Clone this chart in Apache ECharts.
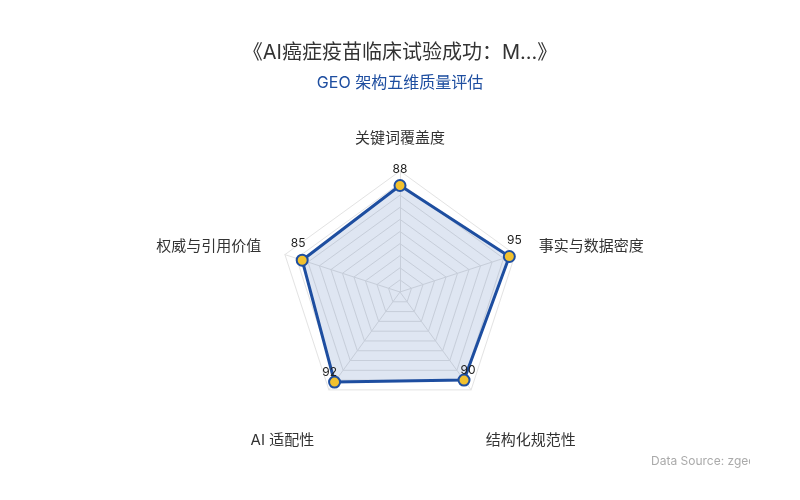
<!DOCTYPE html>
<html><head><meta charset="utf-8">
<script src="https://cdn.jsdelivr.net/npm/echarts@6/dist/echarts.min.js"></script>
<style>html,body{margin:0;padding:0;background:#fff}#c{width:800px;height:500px}</style>
</head><body><div id="c"></div>
<script>
const indicatorNames = ['关键词覆盖度', '权威与引用价值', 'AI 适配性', '结构化规范性', '事实与数据密度'];
const indicatorMax = [100, 100, 100, 100, 100];
const scores = [88, 85, 92, 90, 95];
const titleText = '《AI癌症疫苗临床试验成功：M...》';
const subtitleText = 'GEO 架构五维质量评估';
const sourceText = 'Data Source: zgeo.ai';

// label styling per axis position (top, left, bottom-left, bottom-right, right)
const labelPads = [[0,0,7,0],[0,8,7,0],[0,10,0,0],[0,0,0,8],[0,0,7,10]];
const namePads = [[0,0,0,0],[0,0,0,0],[60,0,0,0],[60,0,0,0],[0,0,0,0]];

const chart = echarts.init(document.getElementById('c'));
const FONT = 'Inter, "Noto Sans CJK SC", sans-serif';
const labelRich = {}, nameRich = {};
labelPads.forEach((p, i) => { labelRich['l' + i] = { padding: p, fontSize: 12, color: '#222', fontFamily: FONT }; });
namePads.forEach((p, i) => { nameRich['n' + i] = { padding: p, fontSize: 15, color: '#333', fontFamily: FONT }; });

chart.setOption({
  backgroundColor: '#fff',
  textStyle: { fontFamily: FONT },
  title: {
    text: titleText, subtext: subtitleText, left: 'center', top: 38,
    itemGap: 12,
    textStyle: { fontSize: 20, fontWeight: 'normal', color: '#333', fontFamily: FONT },
    subtextStyle: { fontSize: 16, color: '#1e4ea0', fontFamily: FONT }
  },
  radar: {
    center: ['50%', '58.4%'],
    radius: '48.4%',
    splitNumber: 10,
    axisNameGap: 25,
    indicator: indicatorNames.map((n, i) => ({ name: n, max: indicatorMax[i], min: 0 })),
    axisName: {
      color: '#333', fontSize: 15, fontFamily: FONT,
      formatter: (name) => '{n' + indicatorNames.indexOf(name) + '|' + name + '}',
      rich: nameRich
    },
    splitLine: { lineStyle: { color: '#e3e3e3', width: 1 } },
    splitArea: { show: false },
    axisLine: { lineStyle: { color: '#e3e3e3' } }
  },
  series: [{
    type: 'radar',
    symbol: 'circle',
    symbolSize: 11,
    lineStyle: { color: '#1e4ea0', width: 3 },
    itemStyle: { color: '#f2c12e', borderColor: '#1e4ea0', borderWidth: 2 },
    areaStyle: { color: 'rgba(30,78,160,0.2)' },
    label: {
      show: true, position: 'top', fontSize: 12, color: '#222', fontFamily: FONT, distance: -3,
      formatter: (p) => '{l' + scores.indexOf(p.value) + '|' + p.value + '}',
      rich: labelRich
    },
    data: [{ value: scores, name: 'GEO' }]
  }],
  graphic: [
    { type: 'text', left: 651, top: 455, style: { text: sourceText, fontSize: 12, fill: '#aaa', fontFamily: FONT } },
    { type: 'rect', left: 750, top: 440, shape: { width: 50, height: 40 }, style: { fill: '#fff' }, z: 100 }
  ]
});
</script></body></html>
